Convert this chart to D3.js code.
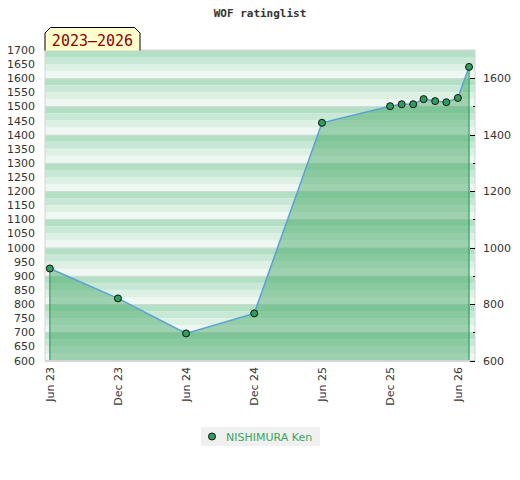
<!DOCTYPE html>
<html><head><meta charset="utf-8">
<script src="https://cdn.jsdelivr.net/npm/d3@7"></script>
<style>body{margin:0;background:#fff}</style>
</head><body>
<svg id="c" width="520" height="480"></svg>
<script>
const dates = ["2023-06-01","2023-12-01","2024-06-01","2024-12-01","2025-06-01","2025-12-01","2026-01-01","2026-02-01","2026-03-01","2026-04-01","2026-05-01","2026-06-01","2026-07-01"];
const ratings = [926, 820, 696, 767, 1442, 1501, 1508, 1508, 1526, 1519, 1515, 1530, 1640];
const leftTicks = [600,650,700,750,800,850,900,950,1000,1050,1100,1150,1200,1250,1300,1350,1400,1450,1500,1550,1600,1650,1700];
const rightTicks = [600,800,1000,1200,1400,1600];
const xTickDates = ["2023-06-01","2023-12-01","2024-06-01","2024-12-01","2025-06-01","2025-12-01","2026-06-01"];
const xTickLabels = ["Jun 23","Dec 23","Jun 24","Dec 24","Jun 25","Dec 25","Jun 26"];
const title = "WOF ratinglist";
const periodLabel = "2023–2026";
const playerName = "NISHIMURA Ken";

const parse = d3.utcParse("%Y-%m-%d");
const data = dates.map((d,i)=>({date:parse(d), v:ratings[i]}));
const svg = d3.select("#c");
const L=45, R=475, T=50, B=360.5;
const x = d3.scaleUtc().domain([parse("2023-05-19"), parse("2026-07-17")]).range([L,R]);
const y = d3.scaleLinear().domain([600,1700]).range([B,T]);

svg.append("text").attr("x",260).attr("y",17).attr("text-anchor","middle")
  .attr("font-family","DejaVu Sans Mono").attr("font-weight","bold").attr("font-size",11).attr("fill","#333").text(title);

// stripes
const bandCols = ["#b3dfc5","#c7e8d4","#dcf0e4","#eef7f2"];
const bands = d3.range(1700, 600, -25);
svg.append("g").selectAll("rect").data(bands).join("rect")
  .attr("x",L).attr("width",R-L)
  .attr("y",d=>y(d)).attr("height",d=>y(d-25)-y(d))
  .attr("fill",(d,i)=>bandCols[i%4]);
// gridlines
svg.append("g").selectAll("line").data(rightTicks.concat([700,900,1100,1300,1500,1700])).join("line")
  .attr("x1",L).attr("x2",R).attr("y1",d=>Math.round(y(d))+0.5).attr("y2",d=>Math.round(y(d))+0.5)
  .attr("stroke","#d2d8d4").attr("stroke-width",1);

// area
const area = d3.area().x(d=>x(d.date)).y0(y(600)).y1(d=>y(d.v));
svg.append("path").datum(data).attr("d",area).attr("fill","#36a158").attr("fill-opacity",0.43);
// vertical edges
const first=data[0], last=data[data.length-1];
[first,last].forEach(d=>{
  svg.append("line").attr("x1",x(d.date)).attr("x2",x(d.date)).attr("y1",y(600)).attr("y2",y(d.v))
    .attr("stroke","#2fa358").attr("stroke-width",1.2);
});
// line
const line = d3.line().x(d=>x(d.date)).y(d=>y(d.v));
svg.append("path").datum(data).attr("d",line).attr("fill","none").attr("stroke","#5aa0d8").attr("stroke-width",1.5);

// border
svg.append("rect").attr("x",L).attr("y",T).attr("width",R-L).attr("height",B-T)
  .attr("fill","none").attr("stroke","#d4d4d4").attr("stroke-width",1);

// points
svg.append("g").selectAll("circle").data(data).join("circle")
  .attr("cx",d=>x(d.date)).attr("cy",d=>y(d.v)).attr("r",3.5)
  .attr("fill","#2f9e5a").attr("stroke","#111").attr("stroke-width",1);

// left axis labels
svg.append("g").selectAll("text").data(leftTicks).join("text")
  .attr("x",35).attr("y",d=>y(d)+4).attr("text-anchor","end")
  .attr("font-family","DejaVu Sans").attr("font-size",11).attr("fill","#333").text(d=>d);
// right axis
const ra = svg.append("g");
ra.selectAll("line.maj").data(rightTicks).join("line").attr("class","maj")
  .attr("x1",R-5).attr("x2",R).attr("y1",d=>Math.round(y(d))+0.5).attr("y2",d=>Math.round(y(d))+0.5)
  .attr("stroke","#000");
ra.selectAll("line.min").data([700,900,1100,1300,1500]).join("line").attr("class","min")
  .attr("x1",R-2).attr("x2",R).attr("y1",d=>Math.round(y(d))+0.5).attr("y2",d=>Math.round(y(d))+0.5)
  .attr("stroke","#000");
ra.selectAll("text").data(rightTicks).join("text")
  .attr("x",483).attr("y",d=>y(d)+4)
  .attr("font-family","DejaVu Sans").attr("font-size",11).attr("fill","#333").text(d=>d);

// x labels
svg.append("g").selectAll("text").data(xTickDates).join("text")
  .attr("transform",d=>`translate(${x(parse(d))+4},367) rotate(-90)`)
  .attr("text-anchor","end")
  .attr("font-family","DejaVu Sans").attr("font-size",11).attr("fill","#333")
  .text((d,i)=>xTickLabels[i]);

// period label box
svg.append("path").attr("d","M45,50.5 L45,33 L50.5,27.5 L134.5,27.5 L140,33 L140,50.5")
  .attr("fill","#ffffcc").attr("stroke","#000").attr("stroke-width",1);
svg.append("text").attr("x",92.5).attr("y",46).attr("text-anchor","middle")
  .attr("font-family","DejaVu Sans Mono").attr("font-size",15).attr("fill","#8b0000").text(periodLabel);

// legend
svg.append("rect").attr("x",201).attr("y",427).attr("width",119).attr("height",19).attr("fill","#f0f0f0");
svg.append("circle").attr("cx",212).attr("cy",436.5).attr("r",3.5).attr("fill","#2f9e5a").attr("stroke","#111");
svg.append("text").attr("x",226).attr("y",440.5).attr("font-family","DejaVu Sans").attr("font-size",11)
  .attr("fill","#3aa660").text(playerName);
</script>
</body></html>
